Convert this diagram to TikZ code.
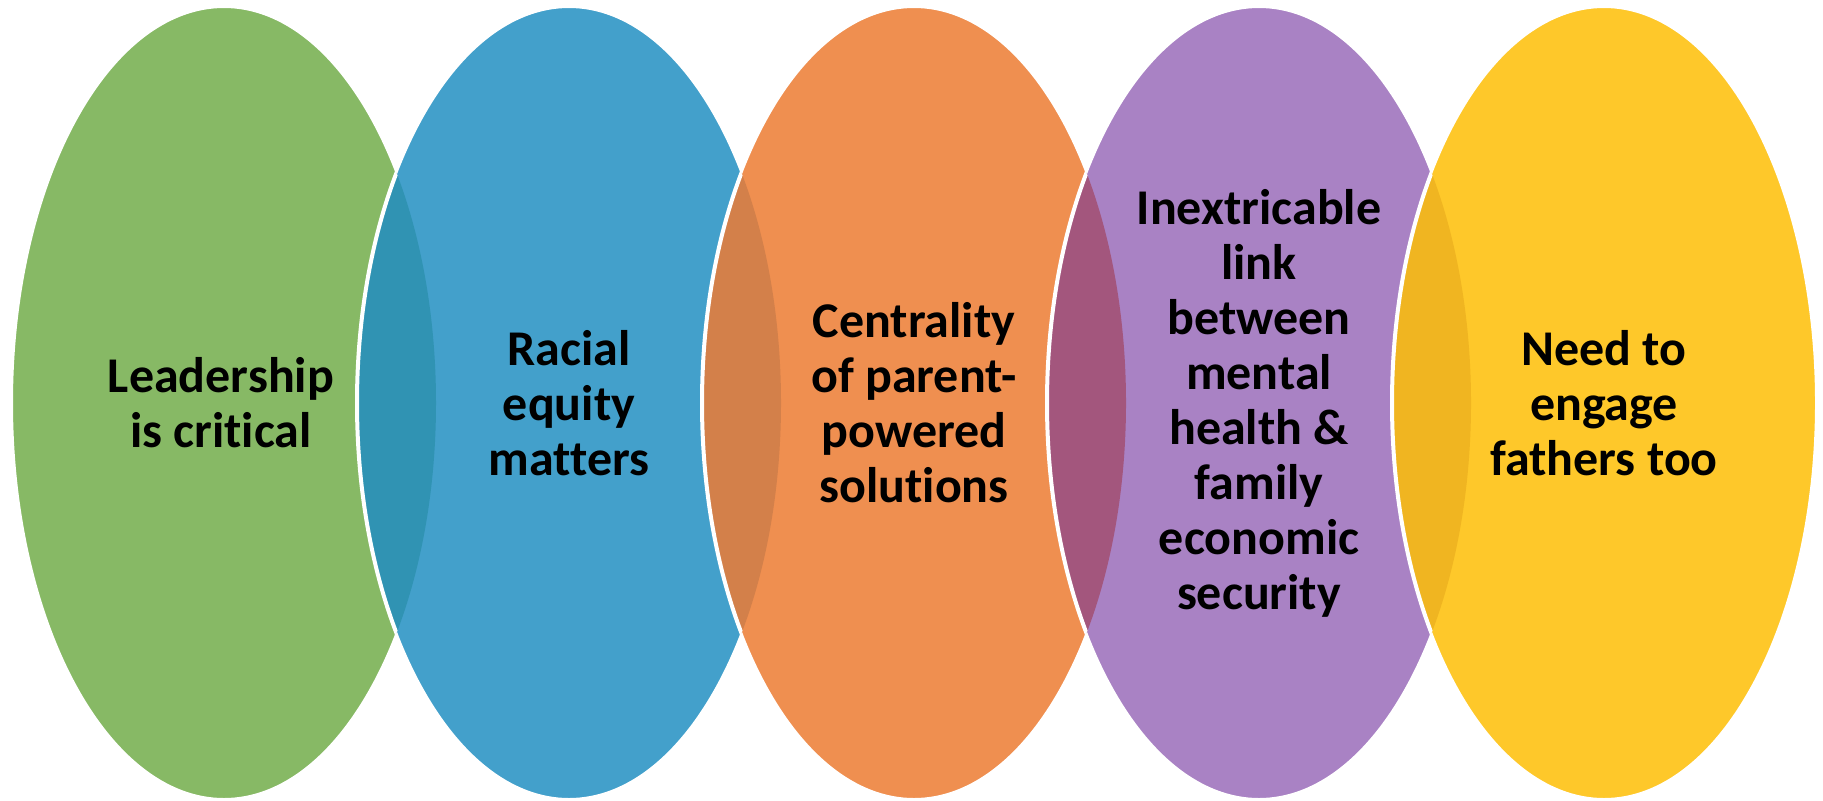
\documentclass[tikz,border=0pt]{standalone}
\usepackage{fontspec}
\setmainfont{Carlito}[Ligatures=NoCommon]

\definecolor{leafgreen}{HTML}{87B965}
\definecolor{skyblue}{HTML}{43A0CB}
\definecolor{peach}{HTML}{EF8F50}
\definecolor{lilac}{HTML}{A982C4}
\definecolor{sunny}{HTML}{FEC82A}
\definecolor{greenblue}{HTML}{3093B3}
\definecolor{blueorange}{HTML}{D3804A}
\definecolor{orangepurple}{HTML}{A3567D}
\definecolor{purpleyellow}{HTML}{F0B521}

\tikzset{
    petal/.style={draw=white, line width=1pt},
    overlap/.style={draw=white, line width=2pt},
    idea/.style={align=center, inner sep=0pt, text=black,
        font=\bfseries\fontsize{25}{27.5}\selectfont}
}

\begin{document}
\begin{tikzpicture}[x=0.5pt, y=0.5pt]
    \useasboundingbox (0,0) rectangle (1823,800);

    % ovals
    \path[petal, fill=leafgreen] (224,397) ellipse [x radius=212, y radius=396];
    \path[petal, fill=skyblue] (569,397) ellipse [x radius=212, y radius=396];
    \path[petal, fill=peach] (914,397) ellipse [x radius=212, y radius=396];
    \path[petal, fill=lilac] (1259,397) ellipse [x radius=212, y radius=396];
    \path[petal, fill=sunny] (1604,397) ellipse [x radius=212, y radius=396];

    % darker lenses where two ovals meet
    \begin{scope}
        \clip (224,397) ellipse [x radius=212, y radius=396];
        \path[overlap, fill=greenblue] (569,397) ellipse [x radius=212, y radius=396];
    \end{scope}
    \begin{scope}
        \clip (569,397) ellipse [x radius=212, y radius=396];
        \path[overlap, fill=blueorange] (914,397) ellipse [x radius=212, y radius=396];
    \end{scope}
    \begin{scope}
        \clip (914,397) ellipse [x radius=212, y radius=396];
        \path[overlap, fill=orangepurple] (1259,397) ellipse [x radius=212, y radius=396];
    \end{scope}
    \begin{scope}
        \clip (1259,397) ellipse [x radius=212, y radius=396];
        \path[overlap, fill=purpleyellow] (1604,397) ellipse [x radius=212, y radius=396];
    \end{scope}

    % labels
    \node[idea] (leadership) at (221,397) {Leadership\\is critical};
    \node[idea] (equity) at (569,397) {Racial\\equity\\matters};
    \node[idea] (parents) at (914,397) {Centrality\\of parent-\\powered\\solutions};
    \node[idea] (link) at (1259,397) {Inextricable\\link\\between\\mental\\health \&\\family\\economic\\security};
    \node[idea] (fathers) at (1604,397) {Need to\\engage\\fathers too};
\end{tikzpicture}
\end{document}
